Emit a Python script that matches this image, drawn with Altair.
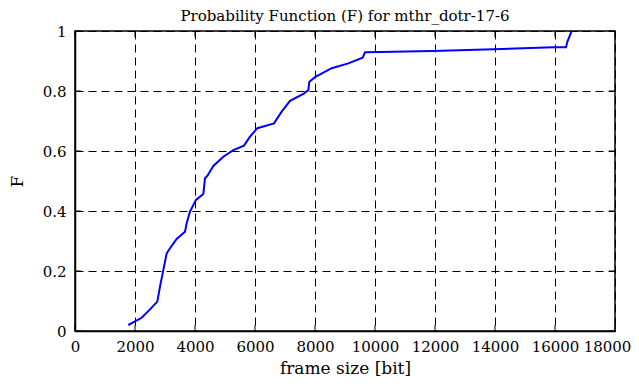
import altair as alt
import pandas as pd

frame_size = [1778, 2222, 2500, 2744, 2833, 2922, 3056, 3167, 3389, 3667, 3722, 3833,
              4033, 4278, 4333, 4411, 4611, 4944, 5278, 5633, 5833, 6078, 6633, 6889,
              7167, 7611, 7778, 7811, 8000, 8556, 9111, 9589, 9667, 9722, 11944, 13944,
              15944, 16367, 16411, 16556]
prob_F = [0.02, 0.044, 0.072, 0.098, 0.148, 0.192, 0.259, 0.276, 0.307, 0.331, 0.359, 0.398,
          0.437, 0.457, 0.509, 0.517, 0.55, 0.581, 0.603, 0.618, 0.648, 0.676, 0.692, 0.731,
          0.767, 0.79, 0.803, 0.831, 0.846, 0.876, 0.892, 0.911, 0.929, 0.929, 0.933, 0.939,
          0.946, 0.946, 0.964, 1.0]
x_ticks = [0, 2000, 4000, 6000, 8000, 10000, 12000, 14000, 16000, 18000]
y_ticks = [0, 0.2, 0.4, 0.6, 0.8, 1.0]

W, H = 540, 300
FONT = "DejaVu Serif"

df = pd.DataFrame({"x": frame_size, "F": prob_F})
xt = pd.DataFrame({"t": x_ticks})
yt = pd.DataFrame({"t": y_ticks})

xs = alt.Scale(domain=[0, 18000], nice=False, zero=False)
ys = alt.Scale(domain=[0, 1], nice=False)

line = alt.Chart(df).mark_line(color="#0000ff", strokeWidth=2, clip=True).encode(
    x=alt.X("x:Q", scale=xs, title="frame size [bit]",
            axis=alt.Axis(values=x_ticks, grid=True, ticks=False, labelPadding=8,
                          labelFlush=False, titlePadding=6, format="d",
                          labelOffset={"condition": {"test": "datum.value == 18000", "value": -8},
                                       "value": 0})),
    y=alt.Y("F:Q", scale=ys, title="F",
            axis=alt.Axis(values=y_ticks, grid=True, ticks=False, labelPadding=9,
                          labelFlush=False, titlePadding=16,
                          labelExpr="format(datum.value, '.1~f')")),
)

tick_len = 6
bottom = alt.Chart(xt).mark_rule(color="black", strokeWidth=1).encode(
    x=alt.X("t:Q", scale=xs), y=alt.value(H), y2=alt.value(H - tick_len))
top = alt.Chart(xt).mark_rule(color="black", strokeWidth=1).encode(
    x=alt.X("t:Q", scale=xs), y=alt.value(0), y2=alt.value(tick_len))
left = alt.Chart(yt).mark_rule(color="black", strokeWidth=1).encode(
    y=alt.Y("t:Q", scale=ys), x=alt.value(0), x2=alt.value(tick_len))
right = alt.Chart(yt).mark_rule(color="black", strokeWidth=1).encode(
    y=alt.Y("t:Q", scale=ys), x=alt.value(W), x2=alt.value(W - tick_len))

chart = alt.layer(line, bottom, top, left, right).properties(
    width=W, height=H,
    title=alt.TitleParams("Probability Function (F) for mthr_dotr-17-6",
                          font=FONT, fontSize=15, fontWeight="normal", color="black",
                          baseline="alphabetic", offset=4, dy=16),
    autosize=alt.AutoSizeParams(type="none"),
    padding={"left": 67, "top": 23, "right": 16, "bottom": 48},
).configure(
    font=FONT
).configure_view(
    stroke="black", strokeWidth=1.5
).configure_axis(
    labelFont=FONT, labelFontSize=15, labelColor="black",
    titleFont=FONT, titleFontSize=17, titleFontWeight="normal", titleColor="black",
    domainColor="black", domainWidth=1.5,
    gridColor="black", gridDash=[8, 5], gridWidth=1, gridOpacity=1,
)

chart.save("out.html", embed_options={"renderer": "svg", "actions": False})
